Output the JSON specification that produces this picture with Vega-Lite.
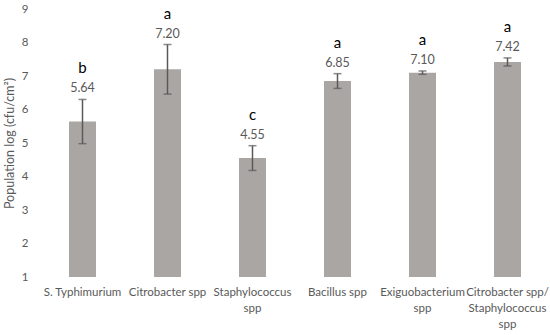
{
  "$schema": "https://vega.github.io/schema/vega-lite/v6.json",
  "width": 510,
  "height": 268,
  "autosize": {"type": "none"},
  "padding": {"left": 40, "top": 9, "right": 0, "bottom": 58},
  "background": "white",
  "config": {
    "view": {"stroke": null},
    "font": "Lato"
  },
  "resolve": {"axis": {"y": "independent"}},
  "data": {
    "values": [
      {"organism": "S. Typhimurium", "mean": 5.64, "err": 0.66, "label": "5.64", "group": "b"},
      {"organism": "Citrobacter spp", "mean": 7.20, "err": 0.74, "label": "7.20", "group": "a"},
      {"organism": "Staphylococcus|spp", "mean": 4.55, "err": 0.37, "label": "4.55", "group": "c"},
      {"organism": "Bacillus spp", "mean": 6.85, "err": 0.22, "label": "6.85", "group": "a"},
      {"organism": "Exiguobacterium|spp", "mean": 7.10, "err": 0.05, "label": "7.10", "group": "a"},
      {"organism": "Citrobacter spp/|Staphylococcus|spp", "mean": 7.42, "err": 0.12, "label": "7.42", "group": "a"}
    ]
  },
  "transform": [
    {"calculate": "datum.mean - datum.err", "as": "low"},
    {"calculate": "datum.mean + datum.err", "as": "high"}
  ],
  "encoding": {
    "x": {
      "field": "organism",
      "type": "nominal",
      "sort": null,
      "scale": {"paddingInner": 0, "paddingOuter": 0},
      "axis": {
        "title": null,
        "labelAngle": 0,
        "domain": false,
        "ticks": false,
        "labelExpr": "split(datum.label, '|')",
        "labelFont": "Lato",
        "labelFontSize": 11.5,
        "labelColor": "#595959",
        "labelPadding": 9,
        "labelLineHeight": 16,
        "labelBaseline": "top",
        "labelOverlap": false,
        "labelLimit": 0
      }
    }
  },
  "layer": [
    {
      "mark": {"type": "bar", "size": 27, "color": "#aaa6a4"},
      "encoding": {
        "y": {
          "field": "mean",
          "type": "quantitative",
          "scale": {"domain": [1, 9], "zero": false, "nice": false},
          "axis": {
            "title": "Population log (cfu/cm²)",
            "titleFont": "Lato",
            "titleFontSize": 12.5,
            "titleFontWeight": "normal",
            "titleColor": "#595959",
            "titlePadding": 5,
            "values": [1, 2, 3, 4, 5, 6, 7, 8, 9],
            "labelOverlap": false,
            "grid": false,
            "domain": false,
            "ticks": false,
            "labelFont": "Lato",
            "labelFontSize": 11.5,
            "labelColor": "#595959",
            "labelPadding": 12
          }
        },
        "y2": {"datum": 1}
      }
    },
    {
      "mark": {"type": "rule", "color": "#595959", "strokeWidth": 1.5},
      "encoding": {
        "y": {"field": "low", "type": "quantitative", "axis": null},
        "y2": {"field": "high"}
      }
    },
    {
      "mark": {"type": "tick", "color": "#595959", "size": 8, "thickness": 1.5, "orient": "horizontal"},
      "encoding": {"y": {"field": "low", "type": "quantitative", "axis": null}}
    },
    {
      "mark": {"type": "tick", "color": "#595959", "size": 8, "thickness": 1.5, "orient": "horizontal"},
      "encoding": {"y": {"field": "high", "type": "quantitative", "axis": null}}
    },
    {
      "mark": {"type": "text", "baseline": "bottom", "dy": -4, "fontSize": 12.5, "color": "#595959", "font": "Lato"},
      "encoding": {
        "y": {"field": "high", "type": "quantitative", "axis": null},
        "text": {"field": "label"}
      }
    },
    {
      "mark": {"type": "text", "baseline": "bottom", "dy": -23, "fontSize": 15, "color": "#000000", "font": "Lato"},
      "encoding": {
        "y": {"field": "high", "type": "quantitative", "axis": null},
        "text": {"field": "group"}
      }
    }
  ]
}
